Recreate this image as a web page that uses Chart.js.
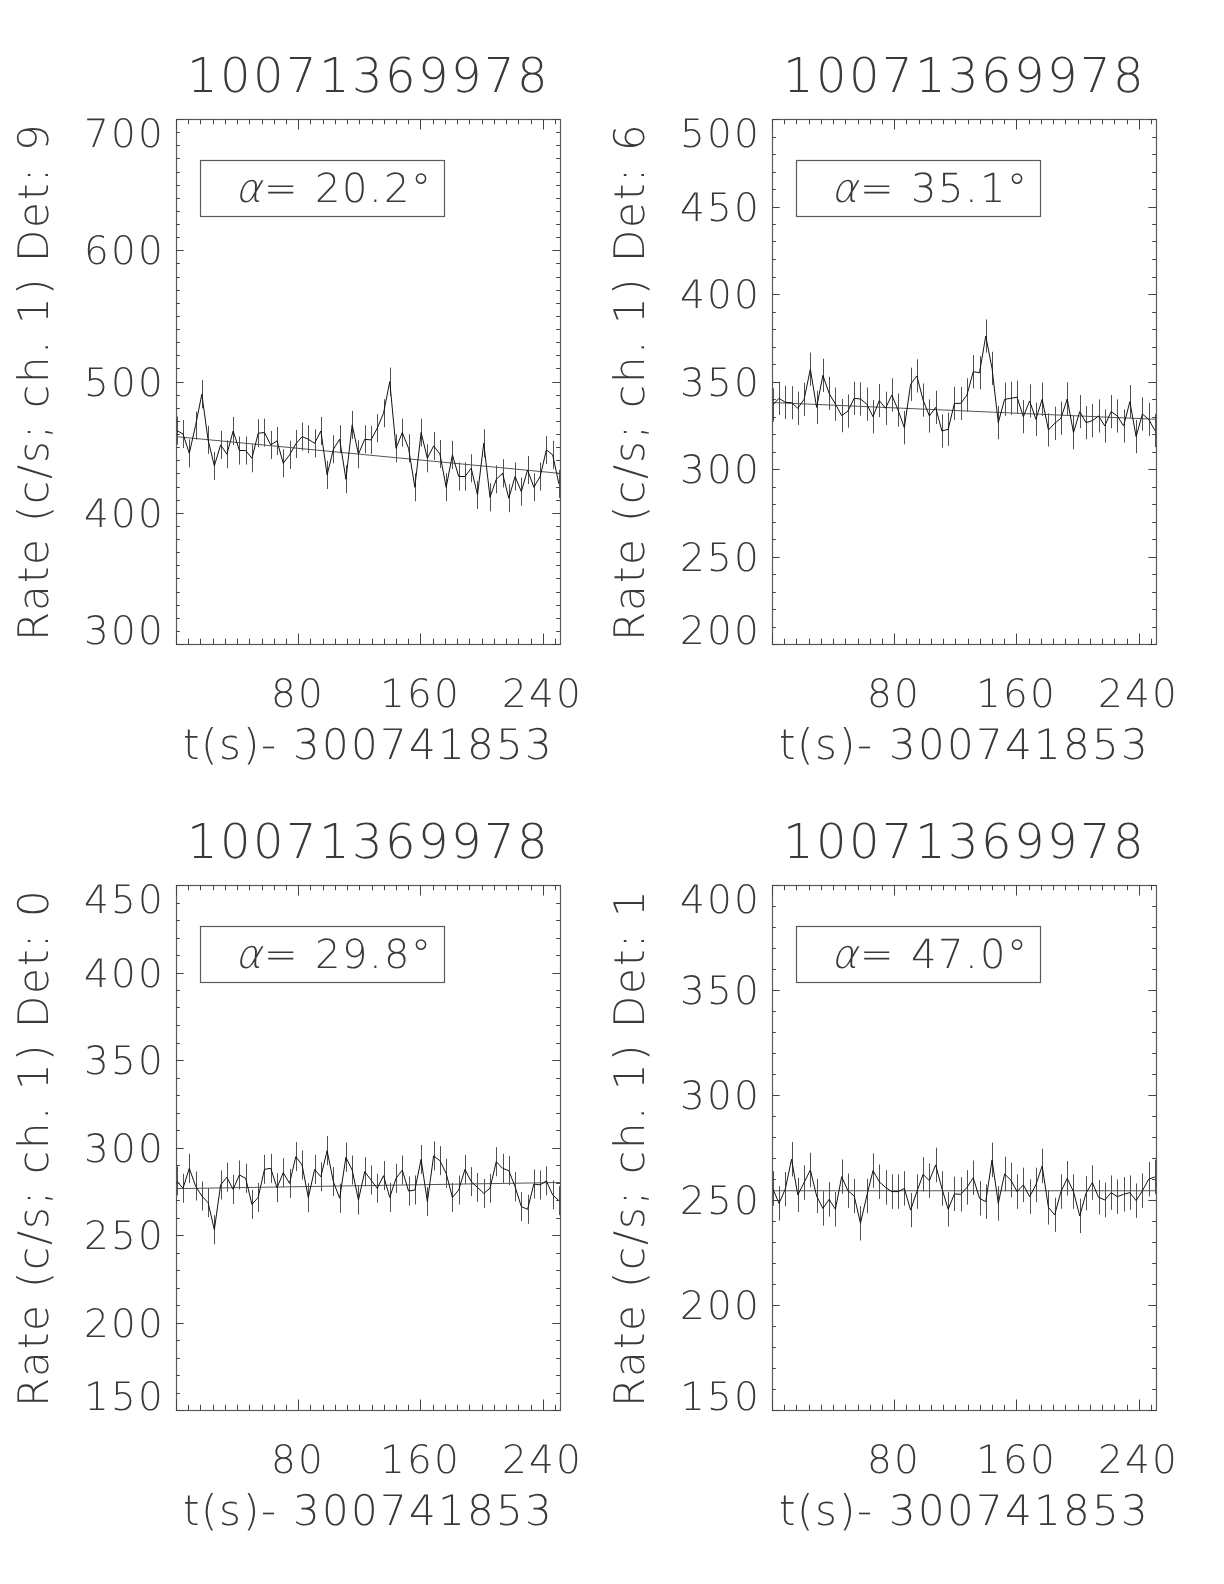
<!DOCTYPE html>
<html>
<head>
<meta charset="utf-8">
<title>Light curves 10071369978</title>
<script src="https://cdn.jsdelivr.net/npm/chart.js@4.4.1/dist/chart.umd.min.js"></script>
<style>
  @font-face {
    font-family: 'DVLight';
    src: local('DejaVu Sans ExtraLight'), local('DejaVuSans-ExtraLight');
  }
  html, body { margin: 0; padding: 0; background: #fff; overflow: hidden; }
  #page { position: relative; width: 1224px; height: 1584px; overflow: hidden; background: #fff; }
  canvas { position: absolute; }
</style>
</head>
<body>
<div id="page">
  <canvas id="det9" width="736" height="792" style="left:0px;top:0px"></canvas>
  <canvas id="det6" width="736" height="792" style="left:596px;top:0px"></canvas>
  <canvas id="det0" width="736" height="792" style="left:0px;top:766px"></canvas>
  <canvas id="det1" width="736" height="792" style="left:596px;top:766px"></canvas>
</div>
<script>
// bin times, t(s) - 300741853
var TIME = [0.5, 4.6, 8.7, 12.8, 16.9, 21.0, 25.1, 29.2, 33.3, 37.4,
  41.5, 45.6, 49.7, 53.8, 57.9, 62.0, 66.1, 70.2, 74.3, 78.4,
  82.5, 86.6, 90.7, 94.8, 98.9, 103.0, 107.1, 111.2, 115.3, 119.4,
  123.5, 127.6, 131.7, 135.8, 139.9, 144.0, 148.1, 152.2, 156.3, 160.4,
  164.5, 168.6, 172.7, 176.8, 180.9, 185.0, 189.1, 193.2, 197.3, 201.4,
  205.5, 209.6, 213.7, 217.8, 221.9, 226.0, 230.1, 234.2, 238.3, 242.4,
  246.5, 250.6];

var RATE_DET9 = [462.6, 460.0, 445.3, 466.4, 490.3, 455.5, 435.7, 451.7, 444.6, 462.3,
  447.4, 447.4, 441.5, 460.6, 461.1, 451.7, 454.7, 437.7, 444.1, 452.4,
  458.0, 456.0, 452.9, 462.3, 428.8, 448.4, 456.0, 425.5, 466.9, 444.6,
  456.0, 455.5, 464.4, 475.8, 499.9, 449.1, 461.1, 449.1, 419.4, 461.1,
  441.5, 450.9, 444.8, 419.4, 444.1, 427.6, 427.6, 433.9, 413.6, 452.9,
  411.8, 425.5, 430.1, 411.1, 427.6, 416.1, 432.6, 419.4, 427.6, 447.9,
  444.1, 422.0];

var RATE_DET6 = [336.6, 340.4, 338.1, 337.9, 334.7, 339.8, 357.0, 335.2, 353.5, 343.2,
  337.1, 330.5, 333.1, 340.4, 340.0, 337.1, 329.9, 339.1, 334.7, 342.3,
  333.7, 323.6, 348.4, 353.2, 339.4, 330.3, 335.2, 321.7, 322.7, 337.5,
  337.5, 342.3, 355.6, 355.0, 376.0, 357.5, 326.5, 339.8, 340.4, 341.0,
  329.9, 338.9, 328.4, 339.8, 322.3, 326.1, 329.0, 340.0, 320.8, 332.8,
  326.5, 327.6, 330.3, 324.6, 332.8, 330.3, 324.6, 338.5, 318.5, 331.4,
  328.4, 322.0];

var RATE_DET0 = [280.9, 276.7, 288.1, 278.0, 272.3, 268.5, 253.0, 278.6, 283.0, 276.1,
  284.3, 282.4, 267.5, 271.5, 287.5, 288.1, 277.0, 285.6, 279.5, 294.8,
  290.0, 271.3, 287.5, 283.3, 298.2, 280.5, 271.0, 294.4, 287.1, 270.0,
  286.2, 281.4, 276.7, 283.9, 271.5, 282.4, 287.1, 275.1, 275.7, 293.2,
  269.1, 295.2, 292.5, 285.2, 271.5, 275.7, 287.5, 280.5, 277.2, 273.8,
  276.7, 291.9, 288.1, 286.8, 277.6, 266.2, 264.7, 279.1, 278.6, 280.9,
  272.9, 269.6];

var RATE_DET1 = [255.5, 248.4, 255.2, 269.4, 252.4, 258.3, 264.3, 251.9, 246.0, 250.3,
  245.6, 261.1, 254.4, 251.9, 238.9, 251.9, 264.0, 258.7, 256.0, 254.0,
  254.0, 255.5, 245.2, 254.0, 262.2, 259.2, 266.7, 255.5, 245.6, 252.9,
  252.7, 256.0, 260.6, 250.8, 249.2, 269.1, 248.4, 262.4, 259.5, 254.0,
  257.2, 251.6, 257.2, 266.2, 246.5, 242.9, 254.0, 260.3, 254.0, 242.4,
  253.2, 258.3, 251.3, 250.0, 253.5, 251.6, 252.7, 253.5, 249.7, 254.4,
  259.9, 261.0];

// straight-line background fits (ends of the time range)
var FIT_TIME = [0, 251.3];
var FIT_DET9 = [458.0, 430.0];
var FIT_DET6 = [338.0, 328.4];
var FIT_DET0 = [276.5, 280.0];
var FIT_DET1 = [254.4, 254.4];

// 1-sigma error per bin, one value per detector
var ERRORS = [10.7, 9.5, 8.3, 8.2];
var ALPHAS = ['20.2°', '35.1°', '29.8°', '47.0°'];
var DETECTORS = ['9', '6', '0', '1'];
var Y_RANGES = [[300, 700, 100], [200, 500, 50], [150, 450, 50], [150, 400, 50]];

var TITLE = '10071369978';
var X_TITLE = 't(s)- 300741853';
var X_TICKS_STEP = 80;
var X_MINOR = 8;
var Y_MINOR = 10;

var FONT = 'DVLight, "DejaVu Sans"';
var INK = '#3a3a3a';

var idlFrame = {
  id: 'idlFrame',
  beforeDraw: function (chart) {
    chart.ctx.letterSpacing = '2px';
  },
  beforeDatasetsDraw: function (chart, args, opts) {
    // error bars
    var ctx = chart.ctx, xs = chart.scales.x, ys = chart.scales.y;
    var pts = chart.data.datasets[0].data;
    ctx.save();
    ctx.strokeStyle = '#505050';
    ctx.lineWidth = 1;
    ctx.beginPath();
    for (var i = 0; i < pts.length; i++) {
      var px = Math.round(xs.getPixelForValue(pts[i].x)) + 0.5;
      ctx.moveTo(px, ys.getPixelForValue(pts[i].y + opts.err));
      ctx.lineTo(px, ys.getPixelForValue(pts[i].y - opts.err));
    }
    ctx.stroke();
    ctx.restore();
  },
  afterDraw: function (chart, args, opts) {
    var ctx = chart.ctx, xs = chart.scales.x, ys = chart.scales.y;
    var a = chart.chartArea;
    var w = a.right - a.left, h = a.bottom - a.top;
    ctx.save();

    // frame
    ctx.strokeStyle = '#5a5a5a';
    ctx.lineWidth = 1.2;
    ctx.strokeRect(a.left + 0.5, a.top + 0.5, w, h);

    // inward ticks on all four sides
    ctx.lineWidth = 1;
    ctx.strokeStyle = '#444';
    ctx.beginPath();
    var v, p, len;
    for (v = xs.min; v <= xs.max + 1e-6; v += X_MINOR) {
      p = Math.round(xs.getPixelForValue(v)) + 0.5;
      len = (Math.abs(v % X_TICKS_STEP) < 1e-6) ? 10.5 : 5.3;
      ctx.moveTo(p, a.bottom); ctx.lineTo(p, a.bottom - len);
      ctx.moveTo(p, a.top); ctx.lineTo(p, a.top + len);
    }
    for (v = ys.min; v <= ys.max + 1e-6; v += Y_MINOR) {
      p = Math.round(ys.getPixelForValue(v)) + 0.5;
      len = (Math.abs((v - ys.min) % opts.yStep) < 1e-6) ? 7.7 : 3.8;
      ctx.moveTo(a.left, p); ctx.lineTo(a.left + len, p);
      ctx.moveTo(a.right, p); ctx.lineTo(a.right - len, p);
    }
    ctx.stroke();

    // y tick labels, kept inside the frame at both ends
    var size = 39, capH = 0.73 * size;
    ctx.fillStyle = INK;
    ctx.font = size + 'px ' + FONT;
    ctx.textAlign = 'right';
    ctx.textBaseline = 'alphabetic';
    ys.ticks.forEach(function (t) {
      var py = ys.getPixelForValue(t.value);
      var cy = Math.min(Math.max(py, a.top + capH / 2), a.bottom - capH / 2);
      ctx.fillText(String(t.value), a.left - 11, cy + capH / 2);
    });

    // angle label box
    var bx = a.left + 0.0625 * w, by = a.top + 0.078 * h;
    var bw = 0.635 * w, bh = 0.107 * h;
    ctx.strokeStyle = '#5a5a5a';
    ctx.lineWidth = 1.2;
    ctx.strokeRect(Math.round(bx) + 0.5, Math.round(by) + 0.5, Math.round(bw), Math.round(bh));
    var ty = by + bh / 2 + capH / 2;
    ctx.textAlign = 'left';
    ctx.font = 'italic 40px ' + FONT;
    ctx.fillText('α', bx + 35, ty);
    var aw = ctx.measureText('α').width;
    ctx.font = '40px ' + FONT;
    ctx.fillText('= ' + opts.alpha, bx + 35 + aw + 1, ty);

    ctx.restore();
  }
};

function makePanel(id, rates, fit, idx) {
  var yr = Y_RANGES[idx];
  var points = rates.map(function (r, i) { return { x: TIME[i], y: r }; });
  var fitLine = fit.map(function (r, i) { return { x: FIT_TIME[i], y: r }; });

  return new Chart(document.getElementById(id), {
    type: 'line',
    data: {
      datasets: [
        { data: points, borderColor: '#111', borderWidth: 1, pointRadius: 0, tension: 0, fill: false },
        { data: fitLine, borderColor: '#555', borderWidth: 1, pointRadius: 0, tension: 0, fill: false }
      ]
    },
    options: {
      responsive: false,
      animation: false,
      devicePixelRatio: 1,
      layout: { padding: { left: 0, right: 176, top: 0, bottom: 0 } },
      plugins: {
        legend: { display: false },
        tooltip: { enabled: false },
        title: {
          display: true,
          text: TITLE,
          fullSize: false,
          color: INK,
          font: { family: FONT, size: 48, weight: 'normal', lineHeight: 1 },
          padding: { top: 56, bottom: 15 }
        },
        idlFrame: { err: ERRORS[idx], alpha: ALPHAS[idx], yStep: yr[2] }
      },
      scales: {
        x: {
          type: 'linear',
          min: 0,
          max: 251.3,
          grid: { display: false, drawTicks: false },
          border: { display: false },
          ticks: {
            stepSize: X_TICKS_STEP,
            includeBounds: false,
            autoSkip: false,
            maxRotation: 0,
            padding: 29,
            color: INK,
            font: { family: FONT, size: 39, weight: 'normal' },
            callback: function (v) { return v === 0 ? '' : String(v); }
          },
          title: {
            display: true,
            text: X_TITLE,
            color: INK,
            font: { family: FONT, size: 42, weight: 'normal' },
            padding: { top: 0, bottom: 19 }
          },
          afterFit: function (s) { s.height = 148; }
        },
        y: {
          type: 'linear',
          min: yr[0],
          max: yr[1],
          grid: { display: false, drawTicks: false },
          border: { display: false },
          ticks: { display: false, stepSize: yr[2] },
          title: {
            display: true,
            text: 'Rate (c/s; ch. 1) Det: ' + DETECTORS[idx],
            color: INK,
            font: { family: FONT, size: 42, weight: 'normal' },
            padding: { top: 12, bottom: 0 }
          },
          afterFit: function (s) { s.width = 176; }
        }
      }
    },
    plugins: [idlFrame]
  });
}

var charts = [
  makePanel('det9', RATE_DET9, FIT_DET9, 0),
  makePanel('det6', RATE_DET6, FIT_DET6, 1),
  makePanel('det0', RATE_DET0, FIT_DET0, 2),
  makePanel('det1', RATE_DET1, FIT_DET1, 3)
];

// redraw once the light face is ready
if (document.fonts && document.fonts.load) {
  Promise.all([
    document.fonts.load('40px DVLight'),
    document.fonts.load('italic 40px DVLight')
  ]).then(function () {
    charts.forEach(function (c) { c.update('none'); });
  });
}
</script>
</body>
</html>
